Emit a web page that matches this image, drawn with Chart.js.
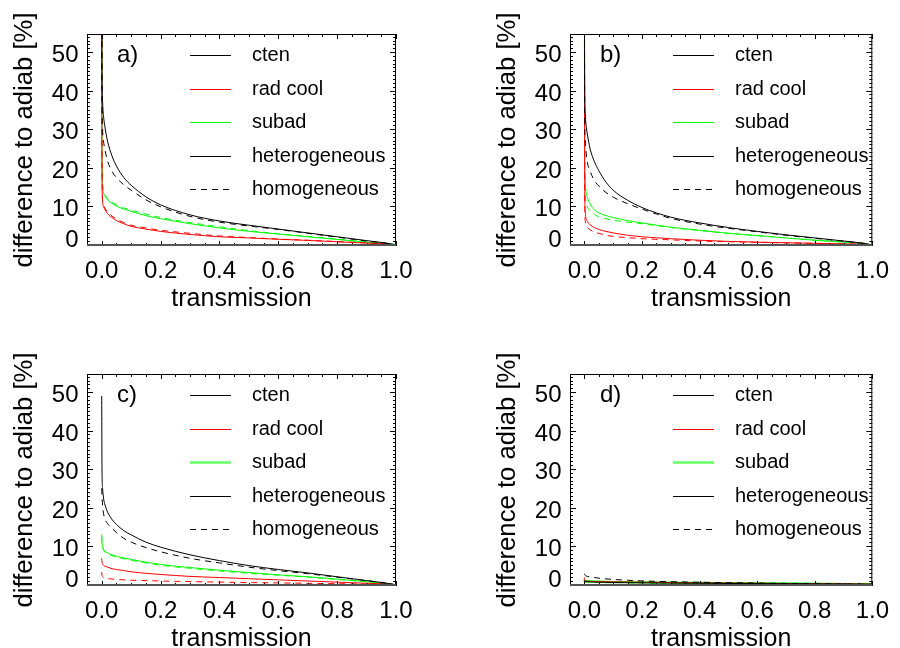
<!DOCTYPE html>
<html>
<head>
<meta charset="utf-8">
<script src="https://cdn.jsdelivr.net/npm/chart.js@4.4.1/dist/chart.umd.min.js"></script>
<style>
  html, body { margin: 0; padding: 0; background: #fff; overflow: hidden; }
  #wrap { position: relative; width: 900px; height: 648px; overflow: hidden; }
  .panel { position: absolute; width: 450px; height: 324px; }
</style>
</head>
<body>
<div id="wrap">
  <div class="panel" style="left:0;top:0"><canvas id="panelA" width="450" height="324"></canvas></div>
  <div class="panel" style="left:450px;top:0"><canvas id="panelB" width="450" height="324"></canvas></div>
  <div class="panel" style="left:0;top:340px"><canvas id="panelC" width="450" height="324"></canvas></div>
  <div class="panel" style="left:450px;top:340px"><canvas id="panelD" width="450" height="324"></canvas></div>
</div>
<script>
const FONT = '"Liberation Sans", Arial, Helvetica, sans-serif';

// transmission values shared by all curves
const transmission = [0, 0.001, 0.003, 0.006, 0.01, 0.02, 0.035, 0.05, 0.075, 0.1, 0.15, 0.2, 0.3, 0.4, 0.5, 0.6, 0.7, 0.8, 0.9, 0.97, 1.0];

// a)
const ctenHetA  = [70, 45, 37, 33.5, 31, 26.8, 23, 20.4, 17.4, 15.4, 12.4, 10.3, 7.7, 6.1, 5.0, 4.0, 3.0, 2.0, 1.0, 0.3, -0.1];
const ctenHomA  = [70, 40, 30, 27, 25, 21.7, 19, 17.4, 15.5, 14.1, 11.6, 9.8, 7.3, 5.8, 4.8, 3.9, 2.9, 1.9, 0.9, 0.3, -0.1];
const radHetA   = [70, 20, 11, 9.9, 9.2, 8.0, 7.0, 6.2, 5.4, 4.7, 4.0, 3.4, 2.6, 2.0, 1.7, 1.35, 1.05, 0.7, 0.35, 0.1, -0.1];
const radHomA   = [70, 21, 11.5, 10.3, 9.6, 8.4, 7.4, 6.6, 5.7, 5.0, 4.3, 3.7, 2.9, 2.2, 1.8, 1.4, 1.1, 0.75, 0.4, 0.1, -0.1];
const subadHetA = [70, 25, 15.5, 13.5, 12.8, 11.6, 10.7, 10.0, 9.2, 8.6, 7.5, 6.7, 5.4, 4.3, 3.4, 2.7, 2.0, 1.3, 0.6, 0.2, 0];
const subadHomA = [70, 26, 16, 13.8, 13.0, 11.9, 11.0, 10.3, 9.5, 8.9, 7.9, 7.0, 5.7, 4.6, 3.6, 2.8, 2.1, 1.4, 0.6, 0.2, 0];

// b)
const ctenHetB  = [70, 42, 34, 31, 28.8, 24.8, 21.5, 19.2, 16.2, 14.1, 11.5, 9.6, 7.1, 5.6, 4.4, 3.4, 2.5, 1.7, 0.9, 0.3, -0.1];
const ctenHomB  = [70, 35, 27, 24, 21.5, 19, 16.6, 15.2, 13.5, 12.3, 10.6, 9.2, 6.8, 5.3, 4.2, 3.3, 2.4, 1.6, 0.85, 0.3, -0.1];
const radHetB   = [70, 18, 8.5, 6.6, 6.0, 5.1, 4.4, 3.9, 3.4, 3.0, 2.4, 2.0, 1.5, 1.1, 0.8, 0.6, 0.45, 0.3, 0.15, 0.05, -0.1];
const radHomB   = [70, 12, 6, 5.0, 4.5, 3.8, 3.2, 2.9, 2.4, 2.1, 1.75, 1.5, 1.2, 0.9, 0.7, 0.55, 0.4, 0.3, 0.15, 0.05, -0.1];
const subadHetB = [70, 25, 16.5, 13.5, 12.3, 10.5, 9.0, 8.2, 7.5, 7.0, 6.2, 5.6, 4.5, 3.7, 2.9, 2.3, 1.7, 1.1, 0.6, 0.2, -0.1];
const subadHomB = [70, 20, 12.5, 10.8, 9.8, 8.8, 7.8, 7.2, 6.7, 6.3, 5.8, 5.4, 4.4, 3.6, 2.9, 2.3, 1.7, 1.1, 0.6, 0.2, -0.1];

// c)
const ctenHetC  = [49, 30, 25, 22.5, 21, 18.8, 16.9, 15.6, 14.0, 12.9, 11.0, 9.7, 7.7, 6.2, 4.9, 3.9, 3.0, 2.0, 1.0, 0.3, -0.1];
const ctenHomC  = [25, 23, 20.5, 18.5, 17.2, 15.8, 14.6, 13.5, 12.0, 11.0, 9.6, 8.5, 6.8, 5.6, 4.5, 3.6, 2.8, 1.9, 1.0, 0.3, -0.1];
const radHetC   = [6.8, 5.8, 5.3, 5.0, 4.8, 4.5, 4.1, 3.9, 3.6, 3.3, 2.9, 2.6, 2.1, 1.8, 1.5, 1.2, 0.9, 0.6, 0.3, 0.1, -0.1];
const radHomC   = [3.2, 2.4, 2.0, 1.8, 1.7, 1.55, 1.4, 1.3, 1.2, 1.1, 1.0, 0.9, 0.75, 0.6, 0.5, 0.4, 0.3, 0.2, 0.1, 0.0, -0.1];
const subadHetC = [13, 11, 9.9, 9.2, 8.7, 8.2, 7.7, 7.3, 6.9, 6.5, 5.8, 5.2, 4.4, 3.7, 3.1, 2.5, 2.0, 1.4, 0.7, 0.2, -0.1];
const subadHomC = [12.5, 10.6, 9.7, 9.0, 8.5, 8.0, 7.5, 7.1, 6.7, 6.3, 5.6, 5.0, 4.2, 3.5, 2.9, 2.4, 1.9, 1.3, 0.7, 0.2, -0.1];

// d)
const ctenHetD  = [1.0, 0.8, 0.75, 0.72, 0.7, 0.66, 0.62, 0.58, 0.54, 0.5, 0.46, 0.42, 0.36, 0.31, 0.26, 0.22, 0.18, 0.14, 0.1, 0.06, 0.04];
const ctenHomD  = [2.8, 2.6, 2.35, 2.2, 2.1, 1.95, 1.8, 1.65, 1.45, 1.3, 1.1, 0.92, 0.72, 0.57, 0.47, 0.35, 0.25, 0.18, 0.12, 0.08, 0.06];
const radHetD   = [1.8, 0.95, 0.9, 0.87, 0.84, 0.8, 0.77, 0.74, 0.71, 0.68, 0.63, 0.58, 0.5, 0.43, 0.37, 0.31, 0.26, 0.2, 0.15, 0.1, 0.05];
const radHomD   = [-0.1, -0.25, -0.25, -0.25, -0.25, -0.25, -0.25, -0.25, -0.25, -0.25, -0.25, -0.25, -0.25, -0.25, -0.25, -0.2, -0.2, -0.2, -0.15, -0.1, -0.1];
const subadHetD = [1.3, 1.0, 0.95, 0.9, 0.86, 0.82, 0.78, 0.74, 0.7, 0.67, 0.62, 0.57, 0.5, 0.43, 0.37, 0.31, 0.26, 0.2, 0.15, 0.1, 0.08];
const subadHomD = [1.1, 0.85, 0.8, 0.77, 0.74, 0.7, 0.66, 0.63, 0.6, 0.57, 0.53, 0.49, 0.43, 0.37, 0.32, 0.27, 0.22, 0.17, 0.12, 0.08, 0.06];

// axes
const xTicks = [0, 0.2, 0.4, 0.6, 0.8, 1.0];
const yTicks = [0, 10, 20, 30, 40, 50];
const xMinorStep = 0.05;
const yMinorStep = 1;
const xRange = [-0.05, 1.0];
const yRange = [-0.4, 54.7];
const xTitle = 'transmission';
const yTitle = 'difference to adiab [%]';
const legendLabels = ['cten', 'rad cool', 'subad', 'heterogeneous', 'homogeneous'];

const BLACK = '#000000';
const RED = '#ff0000';
const GREEN = '#00ff00';
const DASH = [6, 5];

const panels = [
  { id: 'panelA', letter: 'a)', yAxisWidth: 87, padRight: 54, heavyGreen: false,
    cten: [ctenHetA, ctenHomA], rad: [radHetA, radHomA], subad: [subadHetA, subadHomA] },
  { id: 'panelB', letter: 'b)', yAxisWidth: 120, padRight: 20, heavyGreen: false,
    cten: [ctenHetB, ctenHomB], rad: [radHetB, radHomB], subad: [subadHetB, subadHomB] },
  { id: 'panelC', letter: 'c)', yAxisWidth: 87, padRight: 54, heavyGreen: true,
    cten: [ctenHetC, ctenHomC], rad: [radHetC, radHomC], subad: [subadHetC, subadHomC] },
  { id: 'panelD', letter: 'd)', yAxisWidth: 120, padRight: 20, heavyGreen: true,
    cten: [ctenHetD, ctenHomD], rad: [radHetD, radHomD], subad: [subadHetD, subadHomD] }
];

function toPoints(values) {
  return transmission.map((t, i) => ({ x: t, y: values[i] }));
}

function curve(values, color, dashed, width) {
  return {
    data: toPoints(values),
    borderColor: color,
    borderWidth: width || 1,
    borderDash: dashed ? DASH : [],
    pointRadius: 0,
    fill: false,
    cubicInterpolationMode: 'monotone'
  };
}

// box, inward ticks, y labels, panel letter and legend
const idlFrame = {
  id: 'idlFrame',
  afterDatasetsDraw(chart, args, opts) {
    const ctx = chart.ctx;
    const { left, right, top, bottom } = chart.chartArea;
    const xs = chart.scales.x;
    const ys = chart.scales.y;
    ctx.save();
    ctx.strokeStyle = BLACK;
    ctx.lineWidth = 1;
    ctx.setLineDash([]);

    ctx.beginPath();
    const nx = Math.round((xRange[1] - 0) / xMinorStep);
    for (let i = 0; i <= nx; i++) {
      const v = i * xMinorStep;
      const px = Math.round(xs.getPixelForValue(v)) + 0.5;
      const len = xTicks.some(t => Math.abs(t - v) < 1e-6) ? 5 : 3;
      ctx.moveTo(px, bottom); ctx.lineTo(px, bottom - len);
      ctx.moveTo(px, top); ctx.lineTo(px, top + len);
    }
    for (let v = 0; v <= yRange[1]; v += yMinorStep) {
      const py = Math.round(ys.getPixelForValue(v)) + 0.5;
      const len = yTicks.includes(v) ? 6 : 3;
      ctx.moveTo(left, py); ctx.lineTo(left + len, py);
      ctx.moveTo(right, py); ctx.lineTo(right - len, py);
    }
    ctx.stroke();

    ctx.strokeRect(left + 0.5, top + 0.5, right - left - 1, bottom - top - 1);
    ctx.fillStyle = '#555';
    ctx.fillRect(left, bottom - 2, right - left, 2);

    // y tick labels, lowest one kept inside the frame
    ctx.fillStyle = BLACK;
    ctx.font = '24px ' + FONT;
    ctx.textAlign = 'right';
    ctx.textBaseline = 'alphabetic';
    yTicks.forEach(v => {
      const py = ys.getPixelForValue(v);
      ctx.fillText(String(v), left - 8.5, Math.min(py + 10, bottom + 1));
    });

    // panel letter
    ctx.textAlign = 'left';
    ctx.fillText(opts.letter, left + 30, top + 28);

    // legend
    const colors = [BLACK, RED, GREEN, BLACK, BLACK];
    ctx.font = '20px ' + FONT;
    ctx.textBaseline = 'middle';
    legendLabels.forEach((label, i) => {
      const y = Math.round(top + 21 + i * 33.5) + 0.5;
      ctx.beginPath();
      ctx.strokeStyle = colors[i];
      ctx.lineWidth = 1;
      if (i === 2 && opts.heavyGreen) {
        ctx.strokeStyle = '#66ff66';
        ctx.lineWidth = 2.5;
      }
      ctx.setLineDash(i === 4 ? DASH : []);
      ctx.moveTo(left + 103, y);
      ctx.lineTo(left + 144, y);
      ctx.stroke();
      ctx.fillText(label, left + 165, y);
    });
    ctx.restore();
  }
};

panels.forEach(p => {
  const greenWidth = p.id === 'panelD' ? 2 : 1;
  new Chart(document.getElementById(p.id), {
    type: 'line',
    data: {
      datasets: [
        curve(p.cten[0], BLACK, false),
        curve(p.cten[1], BLACK, true),
        curve(p.rad[0], RED, false),
        curve(p.rad[1], RED, true),
        curve(p.subad[0], GREEN, false, greenWidth),
        curve(p.subad[1], GREEN, true, greenWidth)
      ]
    },
    options: {
      responsive: false,
      maintainAspectRatio: false,
      animation: false,
      events: [],
      layout: { padding: { left: 0, top: 34, right: p.padRight, bottom: 0 } },
      plugins: {
        legend: { display: false },
        tooltip: { enabled: false },
        idlFrame: { letter: p.letter, heavyGreen: p.heavyGreen }
      },
      scales: {
        x: {
          type: 'linear',
          min: xRange[0],
          max: xRange[1],
          afterBuildTicks: scale => { scale.ticks = xTicks.map(v => ({ value: v })); },
          afterFit: scale => { scale.height = 78; },
          grid: { display: false, drawTicks: false },
          border: { display: false },
          ticks: {
            autoSkip: false,
            maxRotation: 0,
            padding: 11,
            color: BLACK,
            font: { family: FONT, size: 24 },
            callback: v => v.toFixed(1)
          },
          title: {
            display: true,
            text: xTitle,
            color: BLACK,
            font: { family: FONT, size: 25 },
            padding: { top: 0, bottom: 9.7 }
          }
        },
        y: {
          type: 'linear',
          min: yRange[0],
          max: yRange[1],
          afterFit: scale => { scale.width = p.yAxisWidth; },
          grid: { display: false, drawTicks: false },
          border: { display: false },
          ticks: { display: false },
          title: {
            display: true,
            text: yTitle,
            color: BLACK,
            font: { family: FONT, size: 25.7 },
            padding: { top: p.yAxisWidth - 77.4, bottom: 0 }
          }
        }
      }
    },
    plugins: [idlFrame]
  });
});
</script>
</body>
</html>
